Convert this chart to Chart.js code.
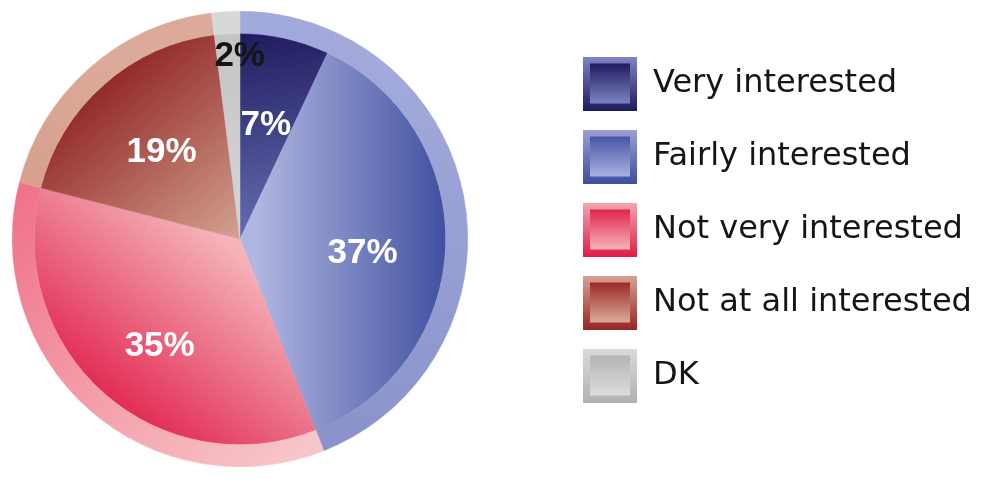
<!DOCTYPE html>
<html>
<head>
<meta charset="utf-8">
<script src="https://cdn.jsdelivr.net/npm/chart.js@4.4.1/dist/chart.umd.min.js"></script>
<style>
  html, body { margin: 0; padding: 0; background: #fff; overflow: hidden; }
  /* canvas is wider than the window and pulled left, so the pie sits near the left edge */
  #graficoPie { display: block; position: relative; left: -62px; }
</style>
</head>
<body>
<canvas id="graficoPie" width="1052" height="483"></canvas>
<script>
// Interest survey pie
const categorias = ['Very interested', 'Fairly interested', 'Not very interested', 'Not at all interested', 'DK'];
const percentuais = [7, 37, 35, 19, 2];
const rotulos = ['7%', '37%', '35%', '19%', '2%'];

// gradient for inner slices: from/to are fractions of radius from centre
const gradInner = [
  { from: [0, -0.95], to: [0.12, -0.05], stops: ['#1b185a', '#6369af'] },
  { from: [0.08, 0], to: [0.9, 0], stops: ['#b0b6e0', '#4151a1'] },
  { from: [-0.55, 0.85], to: [0.05, 0.1], stops: ['#e01b48', '#f5b4b9'] },
  { from: [-0.65, -0.8], to: [0, 0], stops: ['#8a1a1a', '#d4a291'] },
  { from: [0, -1], to: [0, -0.2], stops: ['#c2c2c2', '#d2d2d2'] },
];
const gradRing = [
  { from: [0, -1], to: [0.4, 0.9], stops: ['#a2a9db', '#9aa2d6'] },
  { from: [0.5, -0.8], to: [0.4, 1], stops: ['#a3aadb', '#8892ca'] },
  { from: [-0.95, -0.2], to: [0.2, 1], stops: ['#f0738b', '#f7c6c8'] },
  { from: [-0.6, -0.8], to: [-1, -0.2], stops: ['#dcaa9a', '#d69e8d'] },
  { from: [0, -1], to: [0, -0.9], stops: ['#d8d8d8', '#d8d8d8'] },
];
// legend squares: frame top, frame bottom, inner top, inner bottom
const legendCores = [
  ['#7f85c2', '#1f1c60', '#1f1c5f', '#7d83c1'],
  ['#9aa1d6', '#3f4f9e', '#4656a4', '#aab1e0'],
  ['#f2a6ae', '#e01e4a', '#e2244d', '#f6b4b9'],
  ['#d8a392', '#982826', '#9a2a27', '#dcaa9a'],
  ['#dadada', '#b2b2b2', '#b4b4b4', '#dedede'],
];

function geom(chart) {
  const a = chart.chartArea;
  return { cx: (a.left + a.right) / 2, cy: (a.top + a.bottom) / 2,
           R: Math.min(a.right - a.left, a.bottom - a.top) / 2 };
}

function fillFrom(specs) {
  return function (ctx) {
    const chart = ctx.chart;
    if (!chart.chartArea) return specs[ctx.dataIndex].stops[0];
    const { cx, cy, R } = geom(chart);
    const s = specs[ctx.dataIndex];
    const g = chart.ctx.createLinearGradient(cx + s.from[0] * R, cy + s.from[1] * R,
                                             cx + s.to[0] * R, cy + s.to[1] * R);
    g.addColorStop(0, s.stops[0]);
    g.addColorStop(1, s.stops[1]);
    return g;
  };
}

function legendBox(c) {
  const cv = document.createElement('canvas');
  cv.width = 54; cv.height = 54;
  const g = cv.getContext('2d');
  let lg = g.createLinearGradient(0, 0, 0, 54);
  lg.addColorStop(0, c[0]); lg.addColorStop(1, c[1]);
  g.fillStyle = lg; g.fillRect(0, 0, 54, 54);
  lg = g.createLinearGradient(0, 7, 0, 47);
  lg.addColorStop(0, c[2]); lg.addColorStop(1, c[3]);
  g.fillStyle = lg; g.fillRect(7, 7, 40, 40);
  return cv;
}
const legendImgs = legendCores.map(legendBox);

// legend placement (canvas coords): squares at 645, pie centred at 302
const larguraCanvas = 1052;
const fonteLeg = { family: '"DejaVu Sans"', size: 32 };
const medidor = document.createElement('canvas').getContext('2d');
medidor.font = fonteLeg.size + 'px ' + fonteLeg.family;
const maiorTexto = Math.max(...categorias.map(t => medidor.measureText(t).width));
const legPad = 41;
const legLeft = 2 * 302;
const legWidth = legPad + 54 + fonteLeg.size / 2 + maiorTexto + 10;
const padDir = Math.max(larguraCanvas - legLeft - legWidth, 0);

const pctLabels = {
  id: 'pctLabels',
  afterDatasetsDraw(chart, args, opts) {
    const meta = chart.getDatasetMeta(1);
    const ctx = chart.ctx;
    const { cx, cy, R } = geom(chart);
    ctx.save();
    ctx.font = 'bold 35px "Liberation Sans", Arial, sans-serif';
    ctx.textAlign = 'center';
    ctx.textBaseline = 'middle';
    meta.data.forEach((arc, i) => {
      const p = arc.getProps(['startAngle', 'endAngle']);
      const mid = (p.startAngle + p.endAngle) / 2 + opts.shift[i] * Math.PI / 180;
      const r = R * opts.radius[i];
      ctx.fillStyle = opts.colors[i];
      ctx.fillText(rotulos[i], cx + r * Math.cos(mid), cy + r * Math.sin(mid) + 2);
    });
    ctx.restore();
  }
};

const dataPie = {
  labels: categorias,
  datasets: [{
    label: 'ring',
    data: percentuais,
    backgroundColor: fillFrom(gradRing),
    borderColor: fillFrom(gradRing),
    borderWidth: 0.5,
    weight: 22,
  }, {
    label: 'Interest',
    data: percentuais,
    backgroundColor: fillFrom(gradInner),
    borderColor: fillFrom(gradInner),
    borderWidth: 0.5,
    weight: 206,
  }]
};

const configPie = {
  type: 'pie',
  data: dataPie,
  plugins: [pctLabels],
  options: {
    responsive: false,
    animation: false,
    layout: { padding: { left: 0, right: padDir, top: 11, bottom: 16 } },
    plugins: {
      tooltip: { enabled: false },
      legend: {
        position: 'right',
        align: 'start',
        title: { display: true, text: '', padding: 0, font: { size: 10, lineHeight: 1.55 } },
        labels: {
          usePointStyle: true,
          pointStyleWidth: 54,
          padding: legPad,
          color: '#151515',
          font: fonteLeg,
          generateLabels: () => categorias.map((t, i) => ({
            text: t,
            pointStyle: legendImgs[i],
            fillStyle: legendCores[i][1],
            strokeStyle: 'transparent',
            fontColor: '#151515',
            lineWidth: 0,
            hidden: false,
            index: i,
          })),
        },
      },
      pctLabels: {
        radius: [0.52, 0.54, 0.58, 0.52, 0.81],
        shift: [0, 4, -4, 0, 3.5],
        colors: ['#ffffff', '#ffffff', '#ffffff', '#ffffff', '#151515'],
      },
    },
  }
};

const myChart = new Chart(document.getElementById('graficoPie'), configPie);
</script>
</body>
</html>
